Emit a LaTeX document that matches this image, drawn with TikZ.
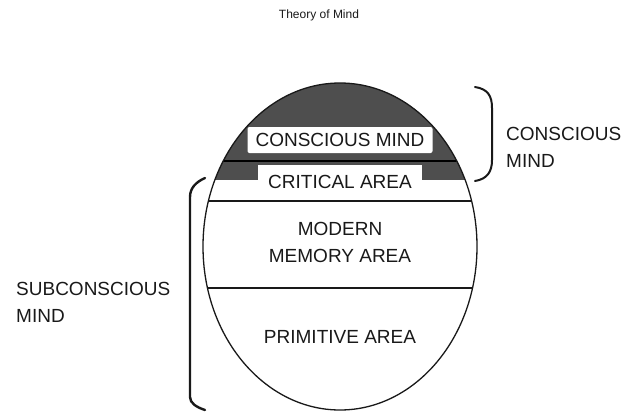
\documentclass[tikz,border=0pt]{standalone}
\usepackage{fontspec}
\setsansfont{Liberation Sans}
\usepackage{xcolor}
\definecolor{mdark}{RGB}{78,78,78}
\definecolor{mink}{RGB}{25,25,25}

\begin{document}
\begin{tikzpicture}[
  x=1pt, y=-1pt,
  every node/.style={font=\sffamily, text=mink},
  area/.style={font=\fontsize{19}{27}\selectfont\sffamily, align=center, inner sep=0pt},
  side/.style={area, align=left, anchor=west},
  tag/.style={area, fill=white, rounded corners=2pt},
  brace/.style={draw=mink, line width=2pt, line cap=round},
  rule/.style={draw=mink, line width=1.1pt}
]
  \useasboundingbox (0,0) rectangle (634,415);

  \node[font=\fontsize{12}{14}\selectfont\sffamily] (title) at (319,15) {Theory of Mind};

  % the mind
  \begin{scope}
    \clip (340,246.5) ellipse [x radius=137, y radius=163.5];
    \fill[mdark] (190,70) rectangle (490,180);
    \draw[rule, line width=2.6pt, draw=black] (190,161) -- (490,161);
    \draw[rule] (190,201) -- (490,201);
    \draw[rule] (190,288) -- (490,288);
  \end{scope}
  \draw[mink, line width=1.3pt] (340,246.5) ellipse [x radius=137, y radius=163.5];

  \node[tag, minimum width=185, minimum height=26] (conscious) at (340,140) {CONSCIOUS MIND};
  \node[tag, rounded corners=0pt, minimum width=164, minimum height=34] (critical) at (340,182) {CRITICAL AREA};
  \node[area] (memory) at (340,242) {MODERN\\MEMORY AREA};
  \node[area] (primitive) at (340,337) {PRIMITIVE AREA};

  % brackets
  \coordinate (ctop) at (475,87);
  \coordinate (cbot) at (475,181);
  \draw[brace] (ctop) .. controls (488,89) and (492,96) .. (492,108) -- (492,160)
    .. controls (492,172) and (487,179) .. (cbot);
  \node[side] (consciouslab) at (506,147) {CONSCIOUS\\MIND};

  \coordinate (stop) at (205,178);
  \coordinate (sbot) at (205,410);
  \draw[brace, line width=2.4pt] (stop) .. controls (196,182) and (190,188) .. (190,197) -- (190,397)
    .. controls (190,403) and (196,407) .. (sbot);
  \node[side] (subconsciouslab) at (16,302) {SUBCONSCIOUS\\MIND};
\end{tikzpicture}
\end{document}
